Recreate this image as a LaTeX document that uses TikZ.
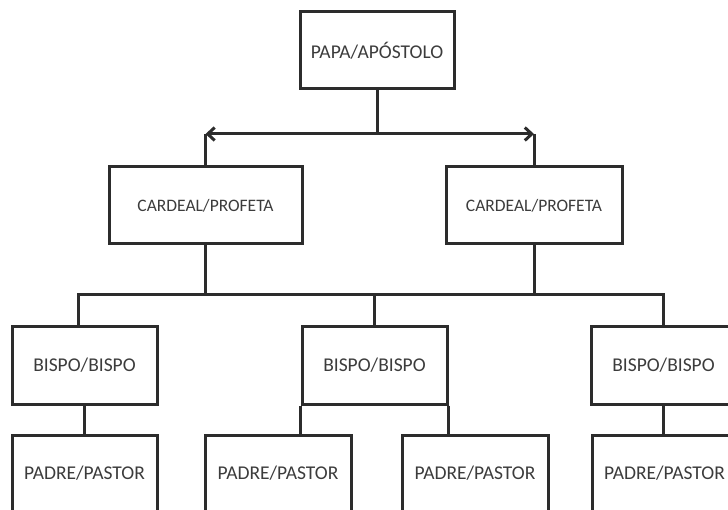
\documentclass[tikz,border=0pt]{standalone}
\usepackage{fontspec}
\setmainfont{Carlito}
\usetikzlibrary{arrows.meta}
\definecolor{linegray}{HTML}{2C2C2C}
\definecolor{textgray}{HTML}{3C3C3C}

\begin{document}
\begin{tikzpicture}[x=1pt,y=-1pt,
  cargo/.style={draw=linegray,line width=3pt,text=textgray,minimum height=77pt,
    inner sep=0pt,font=\fontsize{19.5}{19.5}\selectfont},
  liga/.style={draw=linegray,line width=3pt},
  >={Straight Barb[length=7pt,width=13pt]}]
\useasboundingbox (0,0) rectangle (728,510);
\clip (0,0) rectangle (728,510);
% niveis
\node[cargo,minimum width=154pt] (papa) at (377,50.5) {PAPA/APÓSTOLO};
\node[cargo,minimum width=193pt,font=\fontsize{17.5}{17.5}\selectfont] (cardA) at (205.5,205.5) {CARDEAL/PROFETA};
\node[cargo,minimum width=176pt,font=\fontsize{17.5}{17.5}\selectfont] (cardB) at (534,205.5) {CARDEAL/PROFETA};
\node[cargo,minimum width=145pt] (bispoA) at (84.5,365.5) {BISPO/BISPO};
\node[cargo,minimum width=145pt] (bispoB) at (374.5,365.5) {BISPO/BISPO};
\node[cargo,minimum width=145pt] (bispoC) at (663.5,365.5) {BISPO/BISPO};
\node[cargo,minimum width=145pt] (padreA) at (84.5,473.5) {PADRE/PASTOR};
\node[cargo,minimum width=146pt] (padreB) at (278,473.5) {PADRE/PASTOR};
\node[cargo,minimum width=146pt] (padreC) at (475,473.5) {PADRE/PASTOR};
\node[cargo,minimum width=145pt] (padreD) at (664.5,473.5) {PADRE/PASTOR};
\coordinate (topo) at (377,134);
\coordinate (barra) at (78,295);
% ligacoes
\draw[liga] (papa.south) -- (topo);
\draw[liga,<->] (cardA.north |- topo) -- (cardB.north |- topo);
\draw[liga] (cardA.north |- topo) -- (cardA.north);
\draw[liga] (cardB.north |- topo) -- (cardB.north);
\draw[liga] (cardA.south) -- (cardA.south |- barra);
\draw[liga] (cardB.south) -- (cardB.south |- barra);
\draw[liga] (barra |- bispoA.north) -- (barra) -- (barra -| bispoC.north) -- (bispoC.north);
\draw[liga] (bispoB.north |- barra) -- (bispoB.north);
\draw[liga] (bispoA.south) -- (padreA.north);
\draw[liga] (bispoB.south west) -- (bispoB.south west |- padreB.north);
\draw[liga] (bispoB.south east) -- (bispoB.south east |- padreC.north);
\draw[liga] (bispoC.south) -- (bispoC.south |- padreD.north);
\end{tikzpicture}
\end{document}
